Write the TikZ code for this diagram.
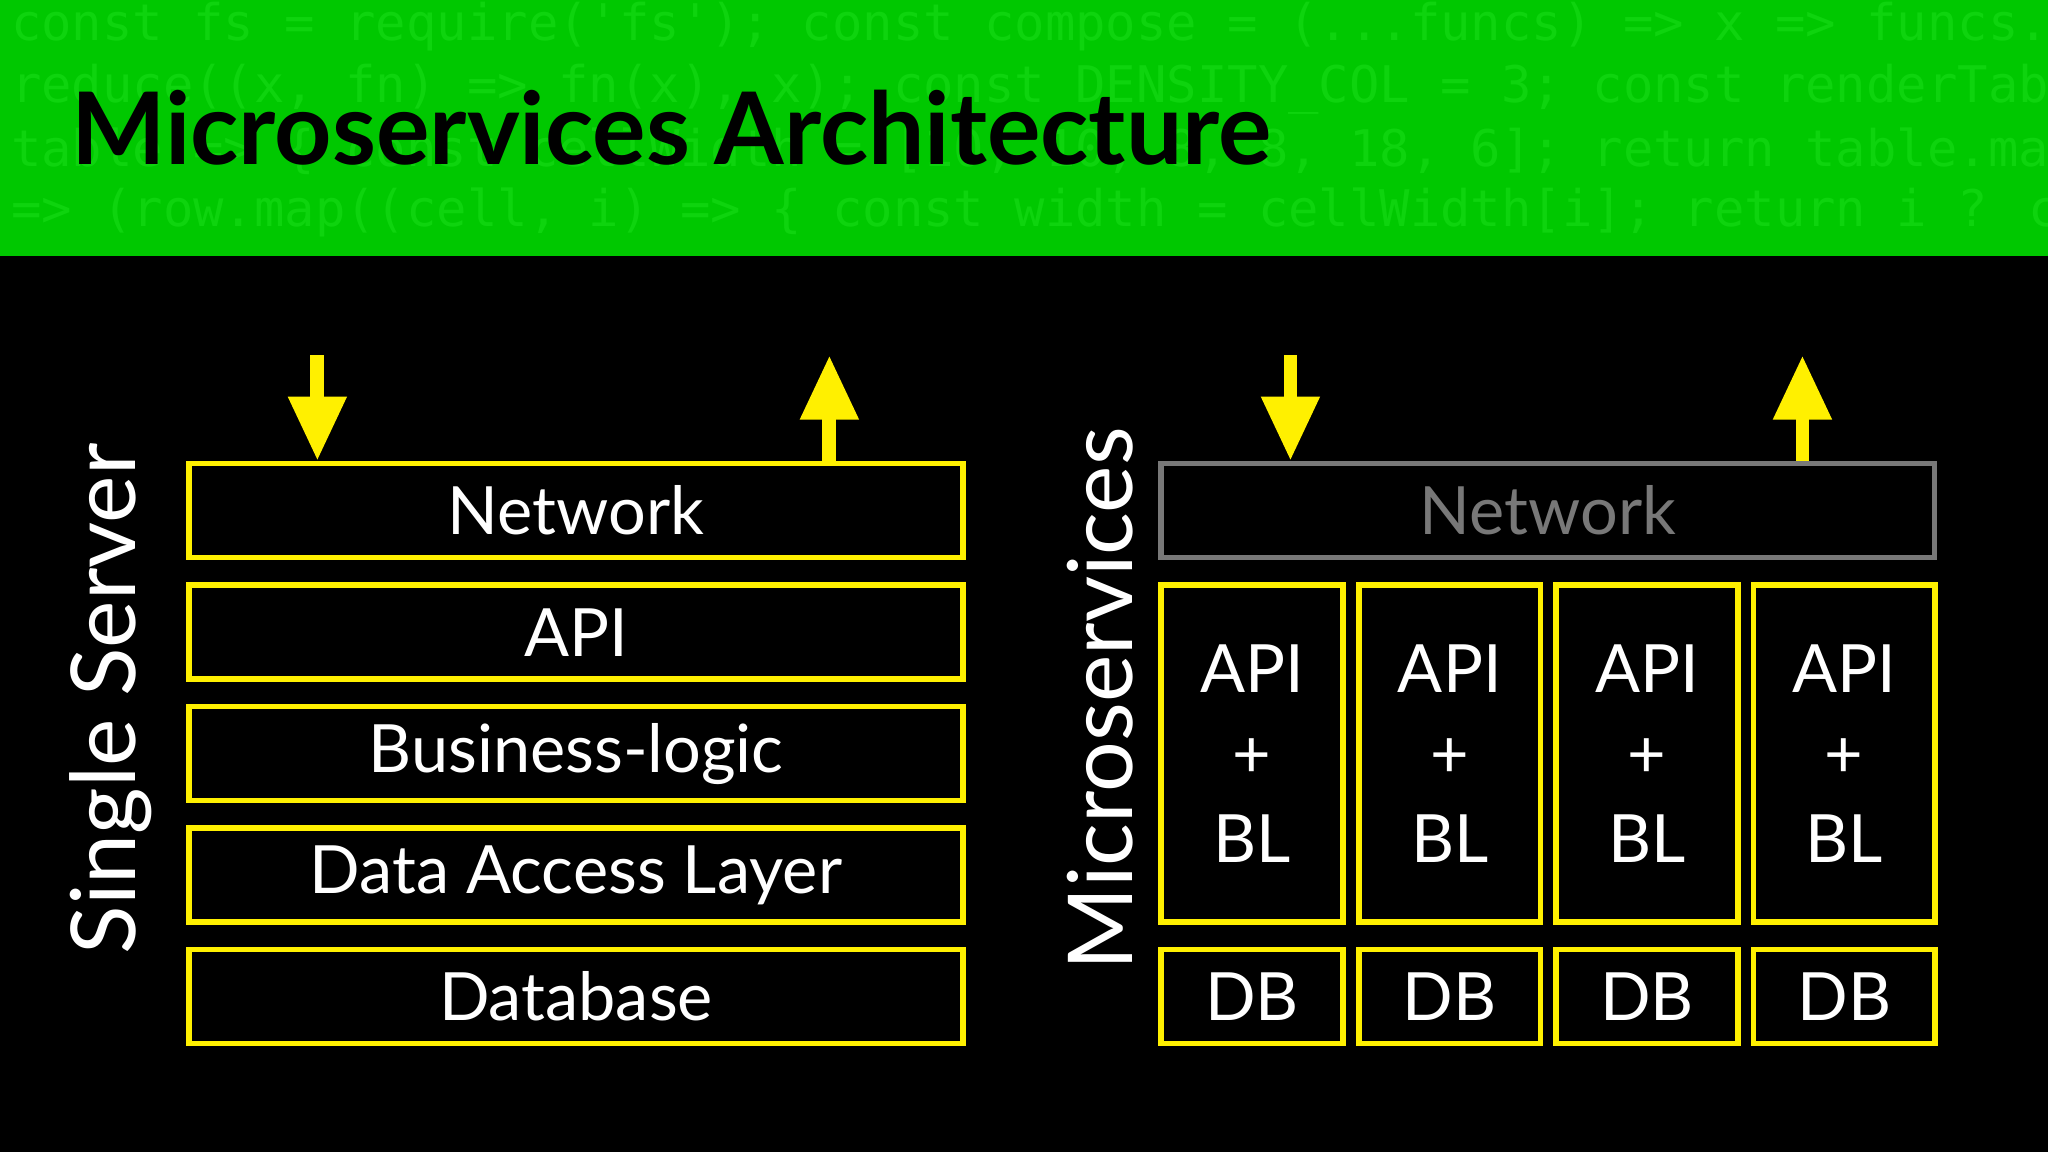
\documentclass[tikz,border=0pt]{standalone}
\usepackage{fontspec}
\setmainfont{Lato}
\newfontfamily\codefont{DejaVu Sans Mono}
\usetikzlibrary{arrows.meta, calc}
\definecolor{hdrgreen}{RGB}{0,200,0}
\definecolor{codegreen}{RGB}{14,212,14}
\definecolor{boxyellow}{RGB}{255,240,0}
\definecolor{netgray}{RGB}{120,120,120}
\begin{document}
\begin{tikzpicture} [x=0.01cm, y=-0.01cm,
    layer/.style = {draw=boxyellow, line width=1.2pt, text=white, font=\fontsize{14.5}{17}\selectfont, inner sep=0pt},
    flow/.style = {-{Triangle[width=12pt,length=14pt]}, boxyellow, line width=3pt},
    code/.style = {anchor=west, text=codegreen, font=\codefont\fontsize{11}{13}\selectfont},
    ]
    \useasboundingbox (0,0) rectangle (1568,882);
    \fill[black] (0,0) rectangle (1568,882);
    \fill[hdrgreen] (0,0) rectangle (1568,196);
    % background code
    \begin{scope}
        \clip (0,0) rectangle (1568,196);
        \node[code] (c1) at (-4,20) {const fs = require('fs'); const compose = (...funcs) => x => funcs.};
        \node[code] (c2) at (-4,68) {reduce((x, fn) => fn(x), x); const DENSITY\_COL = 3; const renderTab};
        \node[code] (c3) at (-4,116) {table => \{ const cellWidth = [10, 10, 8, 8, 18, 6]; return table.ma};
        \node[code] (c4) at (-4,163) {=> (row.map((cell, i) => \{ const width = cellWidth[i]; return i ? c};
    \end{scope}
    \node[anchor=west, font=\bfseries\fontsize{21.8}{26}\selectfont] (title) at (42,98) {Microservices Architecture};

    % single server
    \foreach \name/\txt [count=\i from 0] in {net/Network, api/API, bl/Business-logic, dal/Data Access Layer, db/Database}
        \node[layer, minimum width=5.92cm, minimum height=0.72cm] (\name) at (441,{391+93*\i}) {\txt};
    \coordinate (sin) at (243,272);
    \coordinate (sout) at (635,272);
    \draw[flow] (sin) -- (sin |- net.north);
    \draw[flow] (sout |- net.north) -- (sout);
    \node[rotate=90, text=white, font=\fontsize{19.5}{23}\selectfont] (single) at (85,535) {Single Server};

    % microservices
    \node[layer, draw=netgray, text=netgray, minimum width=5.92cm, minimum height=0.72cm] (mnet) at (1185,391) {Network};
    \foreach \i/\x in {1/958.5, 2/1110, 3/1261, 4/1412} {
        \node[layer, minimum width=1.39cm, minimum height=2.58cm, align=center,
              font=\fontsize{14.5}{18.5}\selectfont] (svc\i) at (\x,577) {API\\+\\BL};
        \node[layer, minimum width=1.39cm, minimum height=0.72cm] (mdb\i) at (\x,763) {DB};
    }
    \coordinate (min) at (988,272);
    \coordinate (mout) at (1380,272);
    \draw[flow] (min) -- (min |- mnet.north);
    \draw[flow] (mout |- mnet.north) -- (mout);
    \node[rotate=90, text=white, font=\fontsize{19.5}{23}\selectfont] (micro) at (842,535) {Microservices};
\end{tikzpicture}
\end{document}
